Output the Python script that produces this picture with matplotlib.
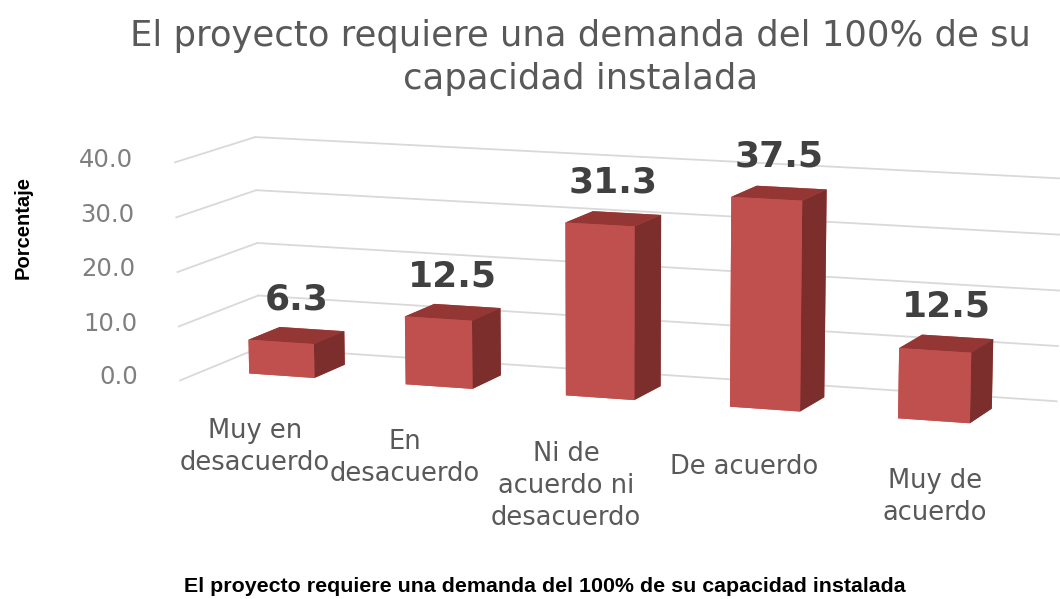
import matplotlib
matplotlib.use("Agg")
import matplotlib.pyplot as plt
import numpy as np

categories = ["Muy en\ndesacuerdo", "En\ndesacuerdo", "Ni de\nacuerdo ni\ndesacuerdo", "De acuerdo", "Muy de\nacuerdo"]
values = [6.3, 12.5, 31.3, 37.5, 12.5]
zticks = [0, 10, 20, 30, 40]
title = "El proyecto requiere una demanda del 100% de su\ncapacidad instalada"
xlabel = "El proyecto requiere una demanda del 100% de su capacidad instalada"
ylabel = "Porcentaje"

# layout: horizontal shift of each category label (in category units)
label_dx = [0.18, 0.11, 0.09, 0.14, 0.24]

W, H = 1060, 599
fig = plt.figure(figsize=(W / 100, H / 100), dpi=100)
aw, ah = 1000, 800
cx, cy = 600, 292  # centre of the 3D panel in pixels (from top-left)
ax = fig.add_axes([(cx - aw / 2) / W, (H - cy - ah / 2) / H, aw / W, ah / H], projection="3d")
ax.apply_aspect = lambda position=None: None  # keep the wide (stretched) panel
ax.set_proj_type("persp", focal_length=0.9)
ax.view_init(elev=12, azim=-70)

n = len(values)
x0, x1 = -0.5, n - 0.5
y0, y1 = 0.0, 1.0
ax.set_xlim(x0, x1)
ax.set_ylim(y0, y1)
ax.set_zlim(0, 40)
ax.set_box_aspect((4.4, 1.0, 1.43), zoom=0.905)
ax.set_axis_off()

# gridlines on left wall and back wall
for t in zticks:
    ax.plot([x0, x0], [y0, y1], [t, t], color="#d9d9d9", lw=1.3, zorder=0, clip_on=False)
    ax.plot([x0, x1], [y1, y1], [t, t], color="#d9d9d9", lw=1.3, zorder=0, clip_on=False)
    ax.text(x0 - 0.27, y0, t, f"{t:.1f}", ha="right", va="center",
            fontsize=17.5, color="#7f7f7f", family="DejaVu Sans", clip_on=False)

bw, bd = 0.42, 0.4
front = "#c0504d"
side = "#7b2e2c"
top = "#943734"
for i, v in enumerate(values):
    cols = [front, top, front, front, front, side]
    pc = ax.bar3d(i - bw / 2, 0.3, 0, bw, bd, v, color=cols, shade=False, zorder=2)
    pc.set_clip_on(False)
    ax.text(i, 0.5, v + 3.5, f"{v:.1f}", ha="center", va="bottom", fontsize=26,
            fontweight="bold", color="#404040", family="DejaVu Sans", clip_on=False)
    ax.text(i + label_dx[i], -0.4, -3.0, categories[i], ha="center", va="top", fontsize=18.5,
            color="#595959", family="DejaVu Sans", linespacing=1.3, clip_on=False)

fig.text(0.548, 0.968, title, ha="center", va="top", fontsize=25.5,
         color="#595959", family="DejaVu Sans", linespacing=1.33)
fig.text(0.514, 0.005, xlabel, ha="center", va="bottom", fontsize=15.4,
         fontweight="bold", color="black", family=["Liberation Sans Narrow", "Liberation Sans"])
fig.text(0.022, 0.62, ylabel, ha="center", va="center", rotation=90, fontsize=14.5,
         fontweight="bold", color="black", family=["Liberation Sans Narrow", "Liberation Sans"])

fig.savefig("out.png", dpi=100)
